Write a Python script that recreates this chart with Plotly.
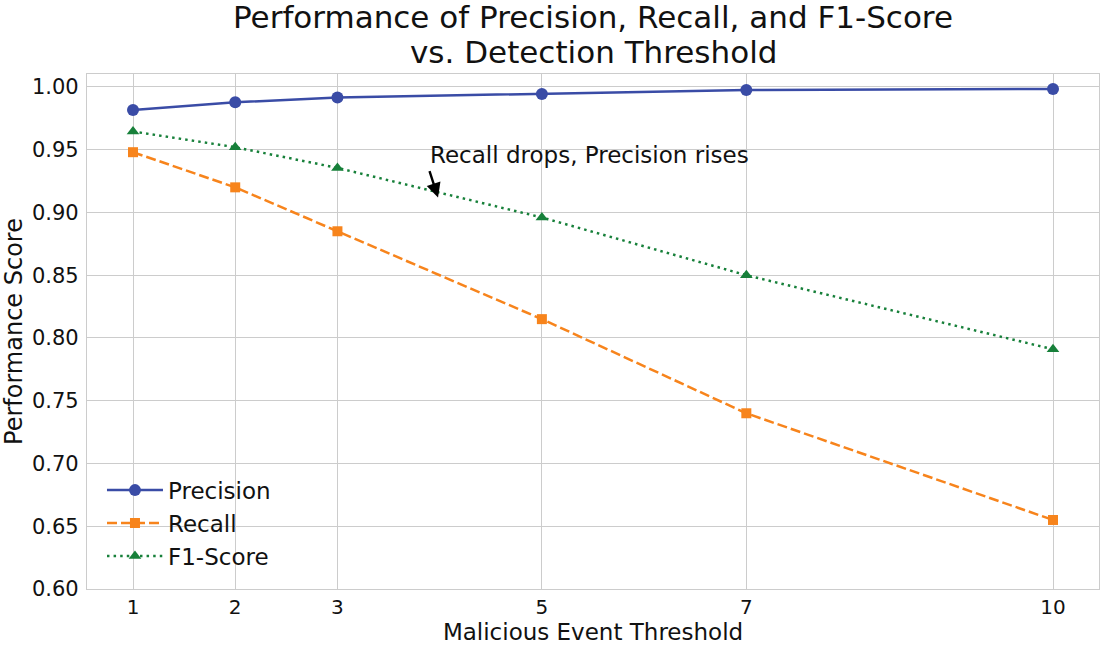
import plotly.graph_objects as go

thresholds = [1, 2, 3, 5, 7, 10]
precision = [0.9817, 0.9878, 0.9915, 0.9944, 0.9976, 0.9984]
recall = [0.948, 0.920, 0.885, 0.815, 0.740, 0.655]
f1 = [0.9645, 0.952, 0.9355, 0.896, 0.850, 0.791]
y_ticks = [0.60, 0.65, 0.70, 0.75, 0.80, 0.85, 0.90, 0.95, 1.00]
title_lines = ["Performance of Precision, Recall, and F1-Score", "vs. Detection Threshold"]

FONT = "DejaVu Sans"
TXT = "#111111"

fig = go.Figure()
fig.add_trace(go.Scatter(x=thresholds, y=precision, name="Precision", mode="lines+markers",
                         legendgroup="p",
                         line=dict(color="#3a4ca6", width=2.5, dash="solid"),
                         marker=dict(symbol="circle", size=12, color="#3a4ca6")))
fig.add_trace(go.Scatter(x=thresholds, y=recall, name="Recall", mode="lines+markers",
                         legendgroup="r",
                         line=dict(color="#f7841c", width=2.5, dash="10px,4px"),
                         marker=dict(symbol="square", size=10, color="#f7841c")))
fig.add_trace(go.Scatter(x=thresholds, y=f1, name="F1-Score", mode="lines+markers",
                         legendgroup="f",
                         line=dict(color="#17803a", width=2.5, dash="2.5px,4.1px"),
                         marker=dict(symbol="triangle-up", size=11, color="#17803a")))

# arrow
fig.add_annotation(x=3.984, y=0.912, ax=3.896, ay=0.9342, xref="x", yref="y", axref="x", ayref="y",
                   text="", showarrow=True, arrowhead=2, arrowsize=1.2, arrowwidth=2.4, arrowcolor="black")
fig.add_annotation(x=3.89, y=0.9338, xref="x", yref="y", text="Recall drops, Precision rises",
                   showarrow=False, xanchor="left", yanchor="bottom",
                   font=dict(family=FONT, size=23, color=TXT))

# title (two lines)
fig.add_annotation(x=0.5, y=1.072, xref="paper", yref="paper", text=title_lines[0],
                   showarrow=False, xanchor="center", yanchor="bottom",
                   font=dict(family=FONT, size=31, color=TXT))
fig.add_annotation(x=0.5, y=1.003, xref="paper", yref="paper", text=title_lines[1],
                   showarrow=False, xanchor="center", yanchor="bottom",
                   font=dict(family=FONT, size=31, color=TXT))

fig.update_layout(
    width=1105, height=645,
    paper_bgcolor="white", plot_bgcolor="white",
    margin=dict(l=87, r=5, t=74, b=53),
    font=dict(family=FONT, color=TXT),
    showlegend=True,
    legend=dict(x=0.0148, y=0.022, xanchor="left", yanchor="bottom", bgcolor="rgba(0,0,0,0)",
                font=dict(family=FONT, size=23, color=TXT), itemwidth=56, tracegroupgap=0),
)
fig.update_xaxes(range=[0.55, 10.45], tickvals=thresholds, ticktext=[str(t) for t in thresholds],
                 showgrid=True, gridcolor="#cccccc", gridwidth=1, zeroline=False,
                 showline=True, linecolor="#cccccc", linewidth=1.2, mirror=True,
                 ticks="", tickfont=dict(family=FONT, size=20),
                 title=dict(text="Malicious Event Threshold", font=dict(family=FONT, size=23), standoff=5))
fig.update_yaxes(range=[0.6, 1.0103], tickvals=y_ticks, ticktext=[f"{v:.2f}" for v in y_ticks],
                 showgrid=True, gridcolor="#cccccc", gridwidth=1, zeroline=False,
                 showline=True, linecolor="#cccccc", linewidth=1.2, mirror=True,
                 ticks="", tickfont=dict(family=FONT, size=21), ticklabelstandoff=3,
                 title=dict(text="Performance Score", font=dict(family=FONT, size=24), standoff=5))

fig.write_html("out.html", config={"displayModeBar": False},
               post_script="document.body.style.margin='0px';")
